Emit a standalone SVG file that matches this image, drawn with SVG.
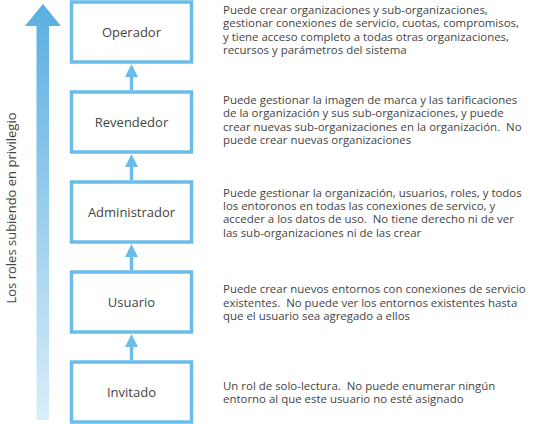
<svg xmlns="http://www.w3.org/2000/svg" width="553" height="424" viewBox="0 0 553 424">
  <style>
    .box { fill: #ffffff; stroke: #6bbde9; stroke-width: 3.5; }
    .lbl { font-family: "Open Sans", "Liberation Sans", sans-serif; font-size: 13px; fill: #444444; text-anchor: middle; }
    .desc { font-family: "Open Sans", "Liberation Sans", sans-serif; font-size: 11.45px; fill: #444444; }
    .axislbl { font-family: "Open Sans", "Liberation Sans", sans-serif; font-size: 13px; fill: #444444; text-anchor: middle; }
    .conn { stroke: #6bbde9; stroke-width: 3.5; fill: none; }
    .head { fill: #6bbde9; }
  </style>
  <defs>
    <linearGradient id="grad" x1="0" y1="0" x2="0" y2="1">
      <stop offset="0" stop-color="#5aaee0"/>
      <stop offset="1" stop-color="#d9eef9"/>
    </linearGradient>
  </defs>
  <rect width="553" height="424" fill="#ffffff"/>

  <g id="axis">
    <polygon points="43,4 61,26 49,26 49,420 36.5,420 36.5,26 25,26" fill="url(#grad)"/>
    <text class="axislbl" transform="translate(16,208) rotate(-90)">Los roles subiendo en privilegio</text>
  </g>

  <g id="connectors">
    <line class="conn" x1="131.5" y1="90" x2="131.5" y2="75"/>
    <polygon class="head" points="131.5,64 138,77 125,77"/>
    <line class="conn" x1="131.5" y1="180" x2="131.5" y2="165"/>
    <polygon class="head" points="131.5,154 138,167 125,167"/>
    <line class="conn" x1="131.5" y1="270" x2="131.5" y2="255"/>
    <polygon class="head" points="131.5,244 138,257 125,257"/>
    <line class="conn" x1="131.5" y1="360" x2="131.5" y2="345"/>
    <polygon class="head" points="131.5,334 138,347 125,347"/>
  </g>

  <g id="operador">
    <rect class="box" x="71.5" y="2" width="120" height="60"/>
    <text class="lbl" x="131.5" y="37">Operador</text>
  </g>
  <g id="revendedor">
    <rect class="box" x="71.5" y="92" width="120" height="60"/>
    <text class="lbl" x="131.5" y="127">Revendedor</text>
  </g>
  <g id="administrador">
    <rect class="box" x="71.5" y="182" width="120" height="60"/>
    <text class="lbl" x="131.5" y="217">Administrador</text>
  </g>
  <g id="usuario">
    <rect class="box" x="71.5" y="272" width="120" height="60"/>
    <text class="lbl" x="131.5" y="307">Usuario</text>
  </g>
  <g id="invitado">
    <rect class="box" x="71.5" y="362" width="120" height="60"/>
    <text class="lbl" x="131.5" y="397">Invitado</text>
  </g>

  <g id="descriptions">
    <text class="desc">
      <tspan x="223" y="14">Puede crear organizaciones y sub-organizaciones,</tspan>
      <tspan x="223" y="27.3">gestionar conexiones de servicio, cuotas, compromisos,</tspan>
      <tspan x="223" y="40.7">y tiene acceso completo a todas otras organizaciones,</tspan>
      <tspan x="223" y="54">recursos y parámetros del sistema</tspan>
    </text>
    <text class="desc">
      <tspan x="223" y="104">Puede gestionar la imagen de marca y las tarificaciones</tspan>
      <tspan x="223" y="117.3">de la organización y sus sub-organizaciones, y puede</tspan>
      <tspan x="223" y="130.7">crear nuevas sub-organizaciones en la organización.&#160; No</tspan>
      <tspan x="223" y="144">puede crear nuevas organizaciones</tspan>
    </text>
    <text class="desc">
      <tspan x="223" y="196.7">Puede gestionar la organización, usuarios, roles, y todos</tspan>
      <tspan x="223" y="210">los entoronos en todas las conexiones de servico, y</tspan>
      <tspan x="223" y="223.3">acceder a los datos de uso.&#160; No tiene derecho ni de ver</tspan>
      <tspan x="223" y="236.7">las sub-organizaciones ni de las crear</tspan>
    </text>
    <text class="desc">
      <tspan x="223" y="293.3">Puede crear nuevos entornos con conexiones de servicio</tspan>
      <tspan x="223" y="306.7">existentes.&#160; No puede ver los entornos existentes hasta</tspan>
      <tspan x="223" y="320">que el usuario sea agregado a ellos</tspan>
    </text>
    <text class="desc">
      <tspan x="223" y="390">Un rol de solo-lectura.&#160; No puede enumerar ningún</tspan>
      <tspan x="223" y="403.3">entorno al que este usuario no esté asignado</tspan>
    </text>
  </g>
</svg>
